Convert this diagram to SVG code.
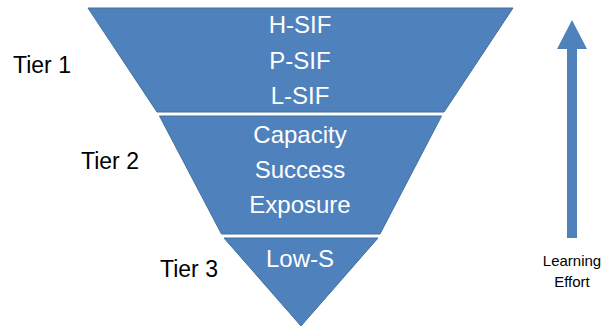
<svg xmlns="http://www.w3.org/2000/svg" width="613" height="327" viewBox="0 0 613 327">
<style>
.tier{fill:#4F81BD;stroke:#41719C;stroke-width:1}
.in{font-family:"Liberation Sans",Arial,sans-serif;font-size:24px;fill:#ffffff;text-anchor:middle}
.lab{font-family:"Liberation Sans",Arial,sans-serif;font-size:23px;fill:#000000}
.sm{font-family:"Liberation Sans",Arial,sans-serif;font-size:15px;fill:#000000;text-anchor:middle}
</style>
<rect width="613" height="327" fill="#ffffff"/>
<g id="tier1">
<polygon class="tier" points="88,8 513,8 444,112 157,112"/>
<text class="in" x="300" y="33">H-SIF</text>
<text class="in" x="300" y="69">P-SIF</text>
<text class="in" x="300" y="104">L-SIF</text>
<text class="lab" x="13" y="73">Tier 1</text>
</g>
<g id="tier2">
<polygon class="tier" points="159.5,116 441.5,116 380,234 221.5,234"/>
<text class="in" x="300" y="143">Capacity</text>
<text class="in" x="300" y="178">Success</text>
<text class="in" x="300" y="213">Exposure</text>
<text class="lab" x="81" y="169">Tier 2</text>
</g>
<g id="tier3">
<polygon class="tier" points="224,238 378,238 301,326"/>
<text class="in" x="300" y="267">Low-S</text>
<text class="lab" x="160" y="277">Tier 3</text>
</g>
<g id="connectors">
<polygon fill="#4F81BD" points="567,238 567,49 557,49 572,20 587,49 577,49 577,238"/>
<text class="sm" x="572" y="266">Learning</text>
<text class="sm" x="572" y="287">Effort</text>
</g>
</svg>
